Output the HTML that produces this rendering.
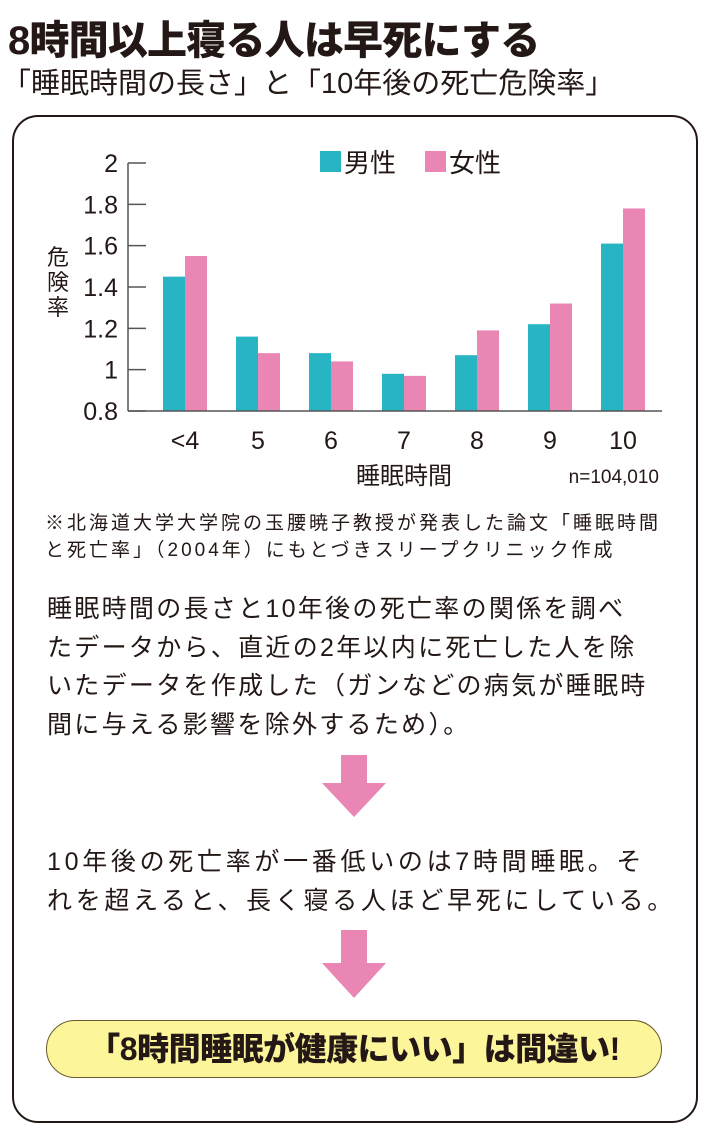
<!DOCTYPE html>
<html><head><meta charset="utf-8"><style>
body{margin:0;width:710px;height:1135px;background:#fff;position:relative;overflow:hidden;font-family:"Liberation Sans","Noto Sans CJK JP",sans-serif;color:#231815}
.t{position:absolute;white-space:nowrap}
</style></head><body>
<div class="t" style="left:8px;top:8px;font-size:40px;font-weight:900;letter-spacing:-0.8px">8時間以上寝る人は早死にする</div>
<div class="t" style="left:2px;top:60px;font-size:29px;letter-spacing:0px">「睡眠時間の長さ」と「10年後の死亡危険率」</div>
<div style="position:absolute;left:12px;top:115px;width:682px;height:1004px;border:2px solid #231815;border-radius:26px"></div>
<svg width="710" height="500" style="position:absolute;left:0;top:0" id="chart"></svg>
<div class="t" style="left:45px;top:510px;font-size:19px;line-height:27px;letter-spacing:3px">※北海道大学大学院の玉腰暁子教授が発表した論文「睡眠時間<br>と死亡率」（2004年）にもとづきスリープクリニック作成</div>
<div class="t" style="left:47px;top:590px;font-size:25px;line-height:38.5px;letter-spacing:2.3px">睡眠時間の長さと10年後の死亡率の関係を調べ<br>たデータから、直近の2年以内に死亡した人を除<br>いたデータを作成した（ガンなどの病気が睡眠時<br>間に与える影響を除外するため）。</div>
<svg class="t" style="left:322px;top:755px" width="64" height="62"><polygon points="19,0 45,0 45,28 64,28 32,62 0,28 19,28" fill="#e986b3"/></svg>
<div class="t" style="left:47px;top:843px;font-size:25px;line-height:38.5px;letter-spacing:3.7px">10年後の死亡率が一番低いのは7時間睡眠。そ<br>れを超えると、長く寝る人ほど早死にしている。</div>
<svg class="t" style="left:322px;top:930px" width="64" height="68"><polygon points="19,0 45,0 45,33 64,33 32,68 0,33 19,33" fill="#e986b3"/></svg>
<div class="t" style="left:46px;top:1020px;width:614px;height:56px;background:#fdf59a;border:1.5px solid #6b5a2a;border-radius:29px;text-align:center;line-height:56px;font-size:32px;font-weight:900;letter-spacing:-0.5px">「8時間睡眠が健康にいい」は間違い!</div>
<script>
const categories=["<4","5","6","7","8","9","10"];
const maleValues=[1.45,1.16,1.08,0.98,1.07,1.22,1.61];
const femaleValues=[1.55,1.08,1.04,0.97,1.19,1.32,1.78];
const yTicks=[0.8,1,1.2,1.4,1.6,1.8,2];
const yTickLabels=["0.8","1","1.2","1.4","1.6","1.8","2"];
const NS="http://www.w3.org/2000/svg";
const svg=document.getElementById('chart');
const y0=411,y1=163,vMin=0.8,vMax=2;
const y=v=>y0-(v-vMin)/(vMax-vMin)*(y0-y1);
const x=i=>185+i*73;
const bw=22;
function mk(t,a){const e=document.createElementNS(NS,t);for(const k in a)e.setAttribute(k,a[k]);svg.appendChild(e);return e;}
yTicks.forEach((v,i)=>{
 const l=mk('line',{x1:128,x2:146,y1:y(v),y2:y(v),stroke:'#555','stroke-width':1.5});
 
 
 const t=mk('text',{x:118,y:y(v)+9,'text-anchor':'end','font-size':25,fill:'#231815'});
 t.textContent=yTickLabels[i];
 
 
});
categories.forEach((c,i)=>{
 const m=mk('rect',{x:x(i)-bw,y:y(maleValues[i]),width:bw,height:y0-y(maleValues[i]),fill:'#27b5c4'});
 
 
 const f=mk('rect',{x:x(i),y:y(femaleValues[i]),width:bw,height:y0-y(femaleValues[i]),fill:'#e986b3'});
 
 
 const t=mk('text',{x:x(i),y:449,'text-anchor':'middle','font-size':25,fill:'#231815'});
 t.textContent=c;
 
 
});
const ax=mk('line',{x1:128,x2:128,y1:y1,y2:y0,stroke:'#555','stroke-width':1.5});


const bx=mk('line',{x1:128,x2:662,y1:y0,y2:y0,stroke:'#555','stroke-width':1.5});


const yt=mk('text',{x:58,y:265,'font-size':22,fill:'#231815','text-anchor':'middle'});


["危","険","率"].forEach((ch,i)=>{const s=document.createElementNS(NS,'tspan');s.setAttribute('x',58);s.setAttribute('y',265+i*25);s.textContent=ch;yt.appendChild(s);});
const xt=mk('text',{x:404,y:484,'font-size':24,'text-anchor':'middle',fill:'#231815'});
xt.textContent='睡眠時間';


const n=mk('text',{x:659,y:483,'font-size':19,'text-anchor':'end',fill:'#231815'});
n.textContent='n=104,010';


const l1=mk('rect',{x:320,y:151,width:21,height:21,fill:'#27b5c4'});


const lt1=mk('text',{x:344,y:172,'font-size':26,fill:'#231815'});lt1.textContent='男性';


const l2=mk('rect',{x:425,y:151,width:21,height:21,fill:'#e986b3'});


const lt2=mk('text',{x:449,y:172,'font-size':26,fill:'#231815'});lt2.textContent='女性';


</script>
</body></html>
